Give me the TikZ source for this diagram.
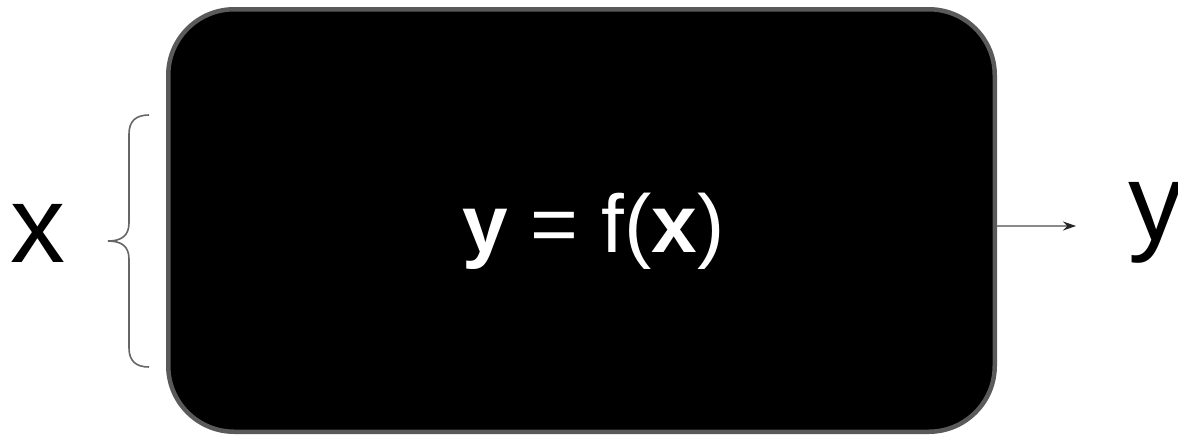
\documentclass[tikz,border=0pt]{standalone}
\usepackage{fontspec}
\setmainfont{Liberation Sans}
\usetikzlibrary{arrows.meta}
\definecolor{bordergray}{HTML}{5A5A5A}
\definecolor{bracegray}{HTML}{666666}
\definecolor{arrowgray}{HTML}{8A8A8A}
\tikzset{
  fbox/.style={draw=bordergray, line width=4.5pt, fill=black, rounded corners=66pt,
    minimum width=826.5pt, minimum height=422.5pt, inner sep=0pt},
  bigtext/.style={font=\fontsize{110}{120}\selectfont, inner sep=0pt, text=black},
  midtext/.style={font=\fontsize{82}{90}\selectfont, inner sep=0pt, text=white},
  bracestyle/.style={draw=bracegray, line width=1.6pt},
  arr/.style={draw=arrowgray, line width=1.2pt, -{Stealth[length=13pt,width=9pt,color=black!85]}}
}
\begin{document}
\begin{tikzpicture}[x=1pt,y=-1pt]
\useasboundingbox (0,0) rectangle (1178,437);
\node[fbox] (box) at (581.5,220.5) {};
\node[midtext, anchor=base] (eq) at (593.5,252) {\textbf{y} = f(\textbf{x})};
\node[bigtext, anchor=base] (xin) at (37.5,262) {x};
\node[bigtext, anchor=base west] (yout) at (1128,240) {y};
\coordinate (atip) at (1076,226);
\draw[arr] (box.east |- atip) -- (atip);
\draw[bracestyle] (149,115) .. controls (136,115) and (129,121) .. (129,134)
  -- (129,223) .. controls (129,236) and (121,241) .. (108,241)
  .. controls (121,241) and (129,246) .. (129,259)
  -- (129,348) .. controls (129,361) and (136,367) .. (149,367);
\end{tikzpicture}
\end{document}
